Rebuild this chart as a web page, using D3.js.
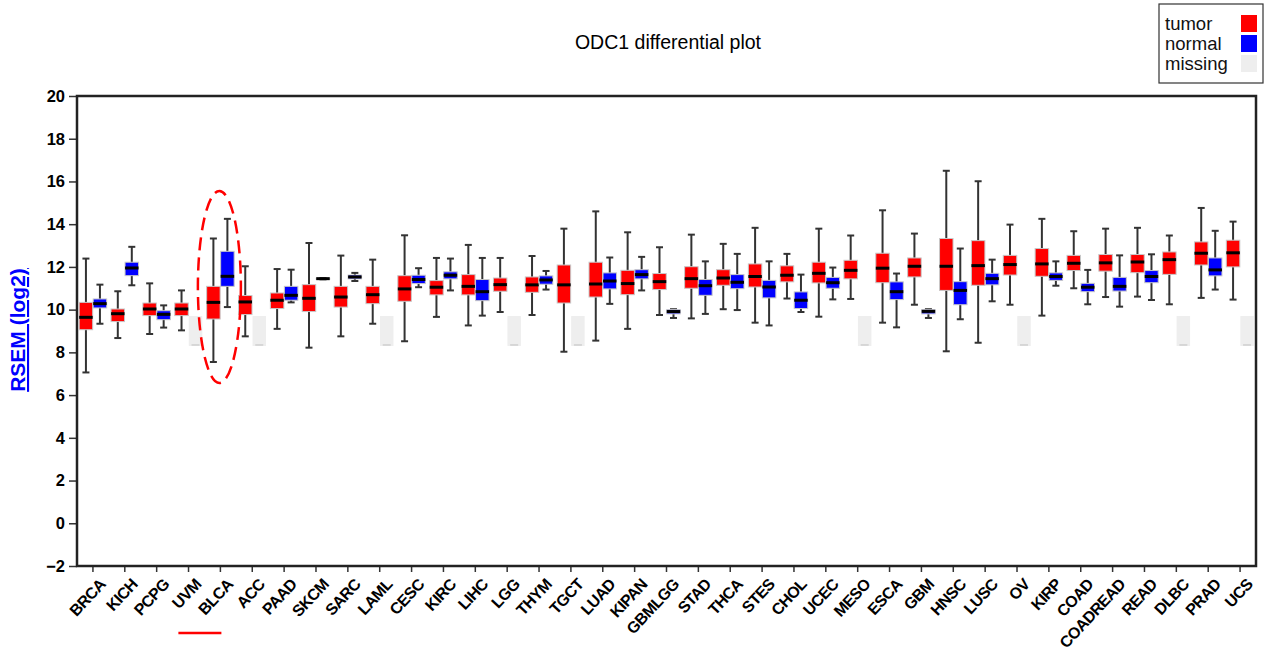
<!DOCTYPE html>
<html>
<head>
<meta charset="utf-8">
<script src="https://cdn.jsdelivr.net/npm/d3@7"></script>
<style>
  body { margin: 0; background: #fff; }
  svg { font-family: "Liberation Sans", Arial, sans-serif; }
</style>
</head>
<body>
<svg width="1272" height="660"></svg>
<script>
const categories = ["BRCA", "KICH", "PCPG", "UVM", "BLCA", "ACC", "PAAD", "SKCM", "SARC", "LAML",
  "CESC", "KIRC", "LIHC", "LGG", "THYM", "TGCT", "LUAD", "KIPAN", "GBMLGG", "STAD", "THCA", "STES",
  "CHOL", "UCEC", "MESO", "ESCA", "GBM", "HNSC", "LUSC", "OV", "KIRP", "COAD", "COADREAD", "READ",
  "DLBC", "PRAD", "UCS"];

// [min, q1, median, q3, max]
const tumorStats = [
  [7.06, 9.06, 9.64, 10.34, 12.39], [8.67, 9.44, 9.81, 10.03, 10.86], [8.86, 9.72, 10.03, 10.31, 11.23],
  [9.03, 9.72, 10.03, 10.31, 10.9], [7.55, 9.56, 10.34, 11.09, 13.33], [8.75, 9.77, 10.36, 10.66, 12.03],
  [9.1, 10.05, 10.44, 10.78, 11.9], [8.22, 9.91, 10.53, 11.17, 13.12], [8.75, 10.12, 10.59, 11.09, 12.53],
  [9.34, 10.28, 10.7, 11.09, 12.34], [8.52, 10.39, 10.97, 11.59, 13.48], [9.66, 10.69, 11.05, 11.36, 12.42],
  [9.26, 10.69, 11.09, 11.64, 13.03], [9.89, 10.86, 11.17, 11.48, 12.42], [9.75, 10.81, 11.16, 11.53, 12.51],
  [8.03, 10.31, 11.16, 12.09, 13.79], [8.55, 10.59, 11.2, 12.22, 14.6], [9.1, 10.7, 11.22, 11.84, 13.62],
  [9.75, 10.94, 11.31, 11.69, 12.92], [9.59, 11.0, 11.45, 12.01, 13.51], [10.02, 11.14, 11.48, 11.87, 13.08],
  [9.39, 11.06, 11.55, 12.14, 13.83], [10.52, 11.3, 11.61, 12.05, 12.61], [9.67, 11.25, 11.7, 12.22, 13.79],
  [10.5, 11.44, 11.84, 12.31, 13.47], [9.39, 11.26, 11.94, 12.64, 14.65], [10.23, 11.53, 12.03, 12.42, 13.56],
  [8.05, 10.9, 12.03, 13.33, 16.5], [8.45, 11.14, 12.06, 13.23, 16.01], [10.23, 11.62, 12.11, 12.54, 13.98],
  [9.72, 11.56, 12.14, 12.86, 14.25], [11.0, 11.83, 12.17, 12.54, 13.67], [10.59, 11.8, 12.19, 12.58, 13.79],
  [10.61, 11.73, 12.23, 12.58, 13.83], [10.25, 11.65, 12.34, 12.7, 13.47], [10.55, 12.09, 12.64, 13.17, 14.76],
  [10.47, 12.0, 12.66, 13.25, 14.12]
];

// null = no normal samples (drawn as "missing")
const normalStats = [
  [9.34, 10.08, 10.28, 10.5, 11.17], [11.14, 11.59, 11.95, 12.22, 12.94], [9.16, 9.53, 9.78, 9.95, 10.2],
  null, [10.12, 11.09, 11.56, 12.73, 14.25], null,
  [10.34, 10.44, 10.67, 11.09, 11.87], [11.42, 11.43, 11.45, 11.47, 11.48], [11.34, 11.44, 11.53, 11.62, 11.72],
  null, [11.05, 11.22, 11.41, 11.61, 11.94], [10.9, 11.44, 11.61, 11.77, 12.39],
  [9.72, 10.42, 10.84, 11.41, 12.42], null, [10.94, 11.19, 11.39, 11.58, 11.81],
  null, [10.27, 10.97, 11.34, 11.72, 12.44], [10.9, 11.44, 11.64, 11.87, 12.47],
  [9.61, 9.8, 9.91, 10.0, 10.02], [9.8, 10.67, 11.12, 11.41, 12.26], [9.98, 10.98, 11.28, 11.64, 12.61],
  [9.26, 10.55, 11.06, 11.37, 12.26], [9.89, 10.05, 10.44, 10.83, 11.64], [10.48, 11.0, 11.26, 11.51, 11.97],
  null, [9.17, 10.47, 10.84, 11.3, 11.69], [9.61, 9.8, 9.92, 10.0, 10.02],
  [9.55, 10.23, 10.9, 11.31, 12.86], [10.39, 11.16, 11.45, 11.7, 12.34], null,
  [11.12, 11.37, 11.55, 11.72, 12.26], [10.25, 10.84, 11.05, 11.23, 11.86], [10.14, 10.87, 11.09, 11.51, 12.54],
  [10.45, 11.26, 11.55, 11.83, 12.59], null, [10.94, 11.58, 11.86, 12.42, 13.69],
  null
];

const missingRange = [8.3, 9.7];
const yTicks = [-2, 0, 2, 4, 6, 8, 10, 12, 14, 16, 18, 20];
const legendItems = [
  { label: "tumor", color: "#ff0000" },
  { label: "normal", color: "#0000ff" },
  { label: "missing", color: "#eeeeee" },
];

const plotLeft = 77, plotRight = 1256, plotTop = 96, plotBottom = 566;
const svg = d3.select("svg");

const x = d3.scaleBand().domain(categories).range([plotLeft, plotRight]);
const y = d3.scaleLinear().domain([-2, 20]).range([plotBottom, plotTop]);
const boxW = 13.5;

// title
svg.append("text")
  .attr("x", 668).attr("y", 49)
  .attr("text-anchor", "middle")
  .style("font-size", "19.5px")
  .text("ODC1 differential plot");

// y axis
const yAxis = svg.append("g")
  .attr("transform", `translate(${plotLeft},0)`)
  .call(d3.axisLeft(y).tickValues(yTicks).tickSize(8).tickPadding(4));
yAxis.select(".domain").remove();
yAxis.selectAll("text").style("font-size", "16.5px").style("font-weight", "bold").attr("fill", "#000");
yAxis.selectAll("line").attr("stroke", "#333").attr("stroke-width", 1.5);

// x axis
const xAxis = svg.append("g")
  .attr("transform", `translate(0,${plotBottom})`)
  .call(d3.axisBottom(x).tickSize(6).tickSizeOuter(0));
xAxis.select(".domain").remove();
xAxis.selectAll("line").attr("stroke", "#333").attr("stroke-width", 1.5);
xAxis.selectAll("text")
  .style("font-size", "16px")
  .style("font-weight", "bold")
  .style("letter-spacing", "-0.6px")
  .attr("fill", "#000")
  .attr("text-anchor", "end")
  .attr("dy", null)
  .attr("transform", "translate(7,13) rotate(-47)");

// frame
svg.append("rect")
  .attr("x", plotLeft).attr("y", plotTop)
  .attr("width", plotRight - plotLeft).attr("height", plotBottom - plotTop)
  .attr("fill", "none").attr("stroke", "#222").attr("stroke-width", 2.5);

// y label
svg.append("text")
  .attr("transform", `translate(25,${(plotTop + plotBottom) / 2 - 1}) rotate(-90)`)
  .attr("text-anchor", "middle")
  .style("font-size", "21px")
  .style("font-weight", "bold")
  .style("text-decoration", "underline")
  .attr("fill", "#0000ff")
  .text("RSEM (log2)");

function drawBox(g, cx, s, color) {
  const [lo, q1, med, q3, hi] = s;
  g.append("line")
    .attr("x1", cx).attr("x2", cx).attr("y1", y(hi)).attr("y2", y(lo))
    .attr("stroke", "#333").attr("stroke-width", 2);
  [lo, hi].forEach(v => g.append("line")
    .attr("x1", cx - 3.5).attr("x2", cx + 3.5).attr("y1", y(v)).attr("y2", y(v))
    .attr("stroke", "#333").attr("stroke-width", 2));
  g.append("rect")
    .attr("x", cx - boxW / 2).attr("y", y(q3))
    .attr("width", boxW).attr("height", Math.max(y(q1) - y(q3), 1))
    .attr("fill", color).attr("stroke", "#c8c8c8").attr("stroke-width", 1);
  g.append("line")
    .attr("x1", cx - boxW / 2).attr("x2", cx + boxW / 2).attr("y1", y(med)).attr("y2", y(med))
    .attr("stroke", "#000").attr("stroke-width", 3);
}

const boxes = svg.append("g");
categories.forEach((c, i) => {
  const cx = x(c) + x.bandwidth() / 2;
  drawBox(boxes, cx - 7, tumorStats[i], "#ff0000");
  if (normalStats[i]) {
    drawBox(boxes, cx + 7, normalStats[i], "#0000ff");
  } else {
    boxes.append("rect")
      .attr("x", cx + 7 - boxW / 2).attr("y", y(missingRange[1]))
      .attr("width", boxW).attr("height", y(missingRange[0]) - y(missingRange[1]))
      .attr("fill", "#eeeeee");
    boxes.append("line")
      .attr("x1", cx + 7 - 4).attr("x2", cx + 7 + 4)
      .attr("y1", y(missingRange[0]) - 1).attr("y2", y(missingRange[0]) - 1)
      .attr("stroke", "#cfcfcf").attr("stroke-width", 1.5);
  }
});

// highlight on BLCA
const blcaX = x("BLCA") + x.bandwidth() / 2;
svg.append("ellipse")
  .attr("cx", blcaX - 1).attr("cy", 287)
  .attr("rx", 21.5).attr("ry", 96)
  .attr("fill", "none").attr("stroke", "#ff0000")
  .attr("stroke-width", 2.5).attr("stroke-dasharray", "13,7");
svg.append("line")
  .attr("x1", blcaX - 42).attr("x2", blcaX + 1)
  .attr("y1", 633).attr("y2", 633)
  .attr("stroke", "#ff0000").attr("stroke-width", 2.5);

// legend
const legend = svg.append("g").attr("transform", "translate(1159,4)");
legend.append("rect")
  .attr("width", 104).attr("height", 79)
  .attr("fill", "#fff").attr("stroke", "#333").attr("stroke-width", 1.2);
legendItems.forEach((d, i) => {
  legend.append("text")
    .attr("x", 6).attr("y", 26 + i * 20)
    .style("font-size", "18.5px")
    .attr("fill", "#111")
    .text(d.label);
  legend.append("rect")
    .attr("x", 82).attr("y", 11 + i * 20)
    .attr("width", 16).attr("height", 17)
    .attr("fill", d.color);
});
</script>
</body>
</html>
